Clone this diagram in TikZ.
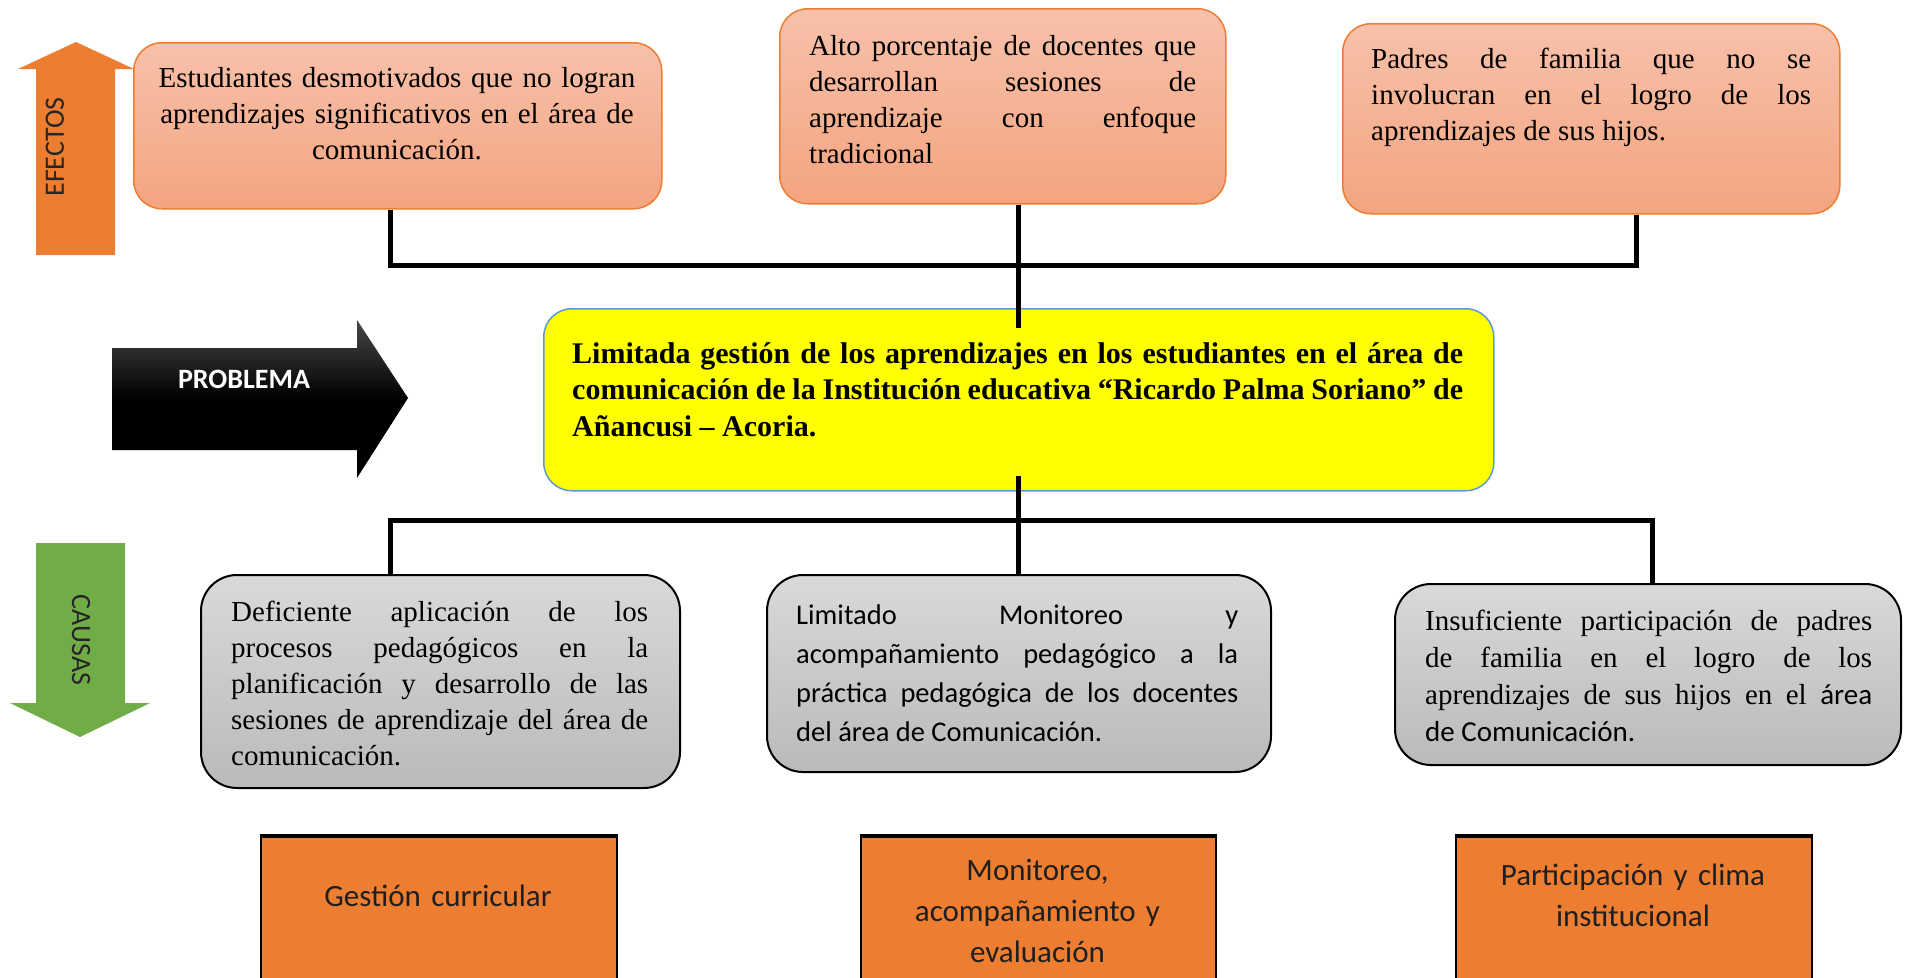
\documentclass[tikz,border=0pt]{standalone}
\usepackage{fontspec}
\setmainfont{Liberation Serif}
\newfontfamily\carl{Carlito}
\usetikzlibrary{calc}
\definecolor{eorange}{HTML}{ED7D31}
\definecolor{etop}{RGB}{247,193,170}
\definecolor{ebot}{RGB}{244,164,128}
\definecolor{gtop}{RGB}{217,217,217}
\definecolor{gbot}{RGB}{186,186,186}
\definecolor{pblue}{HTML}{5B9BD5}
\definecolor{agreen}{HTML}{70AD47}
\definecolor{pyellow}{RGB}{255,255,0}
\begin{document}
\begin{tikzpicture}[x=1pt,y=-1pt,
  conn/.style={line width=5pt, line join=miter},
  ebox/.style={draw=eorange, line width=1.5pt, rounded corners=28pt, top color=etop, bottom color=ebot, anchor=north west, inner sep=0pt},
  gbox/.style={draw=black, line width=2pt, rounded corners=36pt, top color=gtop, bottom color=gbot, anchor=north west, inner sep=0pt},
  pbox/.style={draw=pblue, line width=1.5pt, rounded corners=28pt, fill=pyellow, anchor=north west, inner sep=0pt},
  obox/.style={draw=black, line width=1.5pt, fill=eorange, anchor=north west, inner sep=0pt},
  tx/.style={inner sep=0pt, anchor=north west, align=justify},
  ctx/.style={inner sep=0pt, anchor=north, align=center},
]
\useasboundingbox (0,0) rectangle (1905,977);
\clip (0,0) rectangle (1905,977);

% side arrows
\fill[eorange] (36,255) -- (36,69) -- (18,69) -- (76,42) -- (134,69) -- (115,69) -- (115,255) -- cycle;
\fill[agreen] (36,543) -- (125,543) -- (125,703) -- (150,703) -- (80,737) -- (10,703) -- (36,703) -- cycle;
\shade[top color=black!72, bottom color=black, middle color=black] (112,348) -- (357,348) -- (357,320) -- (408,398) -- (357,478) -- (357,450) -- (112,450) -- cycle;
\node[rotate=90, font=\carl\fontsize{28}{34}\selectfont, text=black!85] (ef) at (55,147) {EFECTOS};
\node[rotate=-90, font=\carl\fontsize{28}{34}\selectfont, text=black!85] (ca) at (81,640) {CAUSAS};
\node[font=\carl\bfseries\fontsize{28}{34}\selectfont, text=white] (pl) at (244,379) {PROBLEMA};

% effect boxes
\node[ebox, minimum width=528pt, minimum height=166pt] (e1) at (133,42) {};
\node[ebox, minimum width=446pt, minimum height=195pt] (e2) at (779,8) {};
\node[ebox, minimum width=497pt, minimum height=190pt] (e3) at (1342,23) {};
\node[ctx, text width=520pt, font=\fontsize{29}{36}\selectfont] (e1t) at (397,62)
  {\strut Estudiantes desmotivados que no logran\\ aprendizajes significativos en el área de\\ comunicación.};
\node[tx, text width=387pt, font=\fontsize{29}{36}\selectfont] (e2t) at (809,29.8)
  {\strut Alto porcentaje de docentes que\linebreak desarrollan sesiones de\linebreak aprendizaje con enfoque\linebreak tradicional};
\node[tx, text width=440pt, font=\fontsize{29}{36}\selectfont] (e3t) at (1371,42.8)
  {\strut Padres de familia que no se\linebreak involucran en el logro de los\linebreak aprendizajes de sus hijos.};

% problem box
\node[pbox, minimum width=950pt, minimum height=182pt] (prob) at (543,308) {};
\node[tx, text width=891pt, font=\bfseries\fontsize{30}{36.5}\selectfont] (probt) at (572,337.5)
  {\strut Limitada gestión de los aprendizajes en los estudiantes en el área de\linebreak comunicación de la Institución educativa “Ricardo Palma Soriano” de\linebreak Añancusi – Acoria.};

% cause boxes
\node[gbox, minimum width=479pt, minimum height=213pt] (c1) at (200,574) {};
\node[gbox, minimum width=504pt, minimum height=197pt] (c2) at (766,574) {};
\node[gbox, minimum width=506pt, minimum height=181pt] (c3) at (1394,583) {};
\node[tx, text width=417pt, font=\fontsize{29}{36}\selectfont] (c1t) at (231,596.5)
  {\strut Deficiente aplicación de los\linebreak procesos pedagógicos en la\linebreak planificación y desarrollo de las\linebreak sesiones de aprendizaje del área de\linebreak comunicación.};
\node[tx, text width=442pt, font=\carl\fontsize{28.5}{39}\selectfont] (c2t) at (796,597)
  {\strut Limitado Monitoreo y\linebreak acompañamiento pedagógico a la\linebreak práctica pedagógica de los docentes\linebreak del área de Comunicación.};
\node[tx, text width=447pt, font=\fontsize{29}{37}\selectfont] (c3t) at (1425,604)
  {\strut Insuficiente participación de padres\linebreak de familia en el logro de los\linebreak aprendizajes de sus hijos en el {\carl área}\linebreak {\carl de Comunicación.}};

% bottom boxes
\node[obox, minimum width=356pt, minimum height=200pt] (g1) at (260,836) {};
\node[obox, minimum width=355pt, minimum height=200pt] (g2) at (860,836) {};
\node[obox, minimum width=356pt, minimum height=200pt] (g3) at (1455,836) {};
\foreach \g in {g1,g2,g3} \draw[line width=4pt] (\g.north west) -- (\g.north east);
\node[ctx, text width=340pt, font=\carl\fontsize{31}{41}\selectfont, text=black!88] (g1t) at (438,878) {\strut Gestión curricular};
\node[ctx, text width=340pt, font=\carl\fontsize{31}{41}\selectfont, text=black!88] (g2t) at (1037.5,852) {\strut Monitoreo,\\ acompañamiento y\\ evaluación};
\node[ctx, text width=340pt, font=\carl\fontsize{31}{41}\selectfont, text=black!88] (g3t) at (1633,857) {\strut Participación y clima\\ institucional};

% connectors
\coordinate (tl) at (390,265);
\coordinate (tr) at (1636,265);
\coordinate (bl) at (390,520);
\coordinate (br) at (1652,520);
\draw[conn] (tl |- e1.south) -- (tl) -- (tr) -- (tr |- e3.south);
\draw[conn] (prob.north |- e2.south) -- ([yshift=-20pt]prob.north);
\draw[conn] (bl |- c1.north) -- (bl) -- (br) -- (br |- c3.north);
\draw[conn] ([yshift=16pt]prob.south) -- (prob.south |- c2.north);
\end{tikzpicture}
\end{document}
